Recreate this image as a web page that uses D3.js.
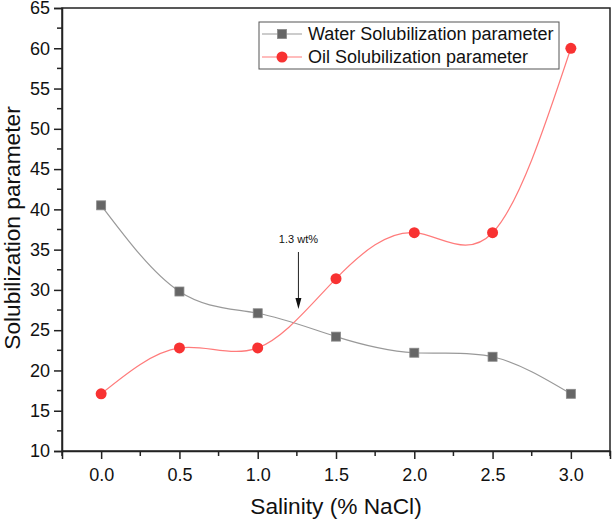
<!DOCTYPE html>
<html><head><meta charset="utf-8">
<script src="https://cdn.jsdelivr.net/npm/d3@7"></script>
<style>body{margin:0;background:#fff}svg{display:block;font-family:Arial,"Liberation Sans",sans-serif}</style>
</head><body><svg id="c" width="612" height="521"></svg>
<script>
const salinity = [0.0, 0.5, 1.0, 1.5, 2.0, 2.5, 3.0];
const waterSol = [40.5, 29.8, 27.1, 24.2, 22.2, 21.7, 17.1];
const oilSol = [17.1, 22.8, 22.8, 31.4, 37.1, 37.1, 60.0];
const xTicks = [0.0, 0.5, 1.0, 1.5, 2.0, 2.5, 3.0];
const yTicks = [10, 15, 20, 25, 30, 35, 40, 45, 50, 55, 60, 65];
const seriesNames = ["Water Solubilization parameter", "Oil Solubilization parameter"];

const FONT = "Arial,'Liberation Sans',sans-serif";
const svg = d3.select("#c");
const L = 62, R = 610, T = 8, B = 451;
const x = d3.scaleLinear().domain([-0.25, 3.25]).range([L, R]);
const y = d3.scaleLinear().domain([10, 65]).range([B, T]);

// frame
svg.append("rect").attr("x", L).attr("y", T).attr("width", R - L).attr("height", B - T)
  .attr("fill", "none").attr("stroke", "#222").attr("stroke-width", 1.5);

// x axis
const xAxis = d3.axisBottom(x).tickValues(xTicks).tickFormat(d3.format(".1f")).tickSize(8).tickPadding(9);
const gx = svg.append("g").attr("transform", `translate(0,${B})`).call(xAxis);
gx.select(".domain").attr("stroke", "#222").attr("stroke-width", 1.5);
gx.selectAll(".tick line").attr("stroke", "#222").attr("stroke-width", 1.5);
gx.selectAll(".tick text").attr("font-size", 18).attr("fill", "#111").attr("font-family", FONT);
const xMinor = d3.range(-0.25, 3.26, 0.5);
svg.append("g").selectAll("line").data(xMinor).join("line")
  .attr("x1", d => x(d)).attr("x2", d => x(d)).attr("y1", B).attr("y2", B + 5)
  .attr("stroke", "#222").attr("stroke-width", 1.5);

// y axis
const yAxis = d3.axisLeft(y).tickValues(yTicks).tickSize(8).tickPadding(4);
const gy = svg.append("g").attr("transform", `translate(${L},0)`).call(yAxis);
gy.select(".domain").attr("stroke", "#222").attr("stroke-width", 1.5);
gy.selectAll(".tick line").attr("stroke", "#222").attr("stroke-width", 1.5);
gy.selectAll(".tick text").attr("font-size", 18).attr("fill", "#111").attr("font-family", FONT);
const yMinor = d3.range(12.5, 65, 5);
svg.append("g").selectAll("line").data(yMinor).join("line")
  .attr("x1", L).attr("x2", L - 5).attr("y1", d => y(d)).attr("y2", d => y(d))
  .attr("stroke", "#222").attr("stroke-width", 1.5);

// titles
svg.append("text").attr("x", (L + R) / 2).attr("y", 514).attr("text-anchor", "middle")
  .attr("font-size", 22.7).attr("fill", "#111").text("Salinity (% NaCl)");
svg.append("text").attr("transform", `translate(20,${228}) rotate(-90)`).attr("text-anchor", "middle")
  .attr("font-size", 22.7).attr("fill", "#111").text("Solubilization parameter");

// lines
const line = d3.line().curve(d3.curveNatural).x(d => x(d[0])).y(d => y(d[1]));
const wData = salinity.map((s, i) => [s, waterSol[i]]);
const oData = salinity.map((s, i) => [s, oilSol[i]]);
svg.append("path").attr("d", line(wData)).attr("fill", "none").attr("stroke", "#999").attr("stroke-width", 1.2);
svg.append("path").attr("d", line(oData)).attr("fill", "none").attr("stroke", "#ff7b7b").attr("stroke-width", 1.2);

// markers
svg.append("g").selectAll("rect").data(wData).join("rect")
  .attr("x", d => x(d[0]) - 4.5).attr("y", d => y(d[1]) - 4.5).attr("width", 9).attr("height", 9)
  .attr("fill", "#666").attr("stroke", "#888").attr("stroke-width", 0.8);
svg.append("g").selectAll("circle").data(oData).join("circle")
  .attr("cx", d => x(d[0])).attr("cy", d => y(d[1])).attr("r", 5.5)
  .attr("fill", "#f83232");

// annotation
const ax = x(1.26);
svg.append("text").attr("x", ax).attr("y", 243).attr("text-anchor", "middle").attr("font-size", 11).attr("fill", "#111").text("1.3 wt%");
svg.append("line").attr("x1", ax).attr("x2", ax).attr("y1", 252).attr("y2", 300).attr("stroke", "#222").attr("stroke-width", 1);
svg.append("path").attr("d", `M${ax - 3},${298} L${ax + 3},${298} L${ax},${309} Z`).attr("fill", "#111");

// legend
const lg = svg.append("g");
lg.append("rect").attr("x", 259).attr("y", 22).attr("width", 300).attr("height", 47)
  .attr("fill", "#fff").attr("stroke", "#555").attr("stroke-width", 1);
[0, 1].forEach(i => {
  const ly = 34 + i * 23;
  lg.append("line").attr("x1", 262).attr("x2", 302).attr("y1", ly).attr("y2", ly)
    .attr("stroke", i === 0 ? "#999" : "#ff7b7b").attr("stroke-width", 1.2);
  if (i === 0) lg.append("rect").attr("x", 277.5).attr("y", ly - 4.5).attr("width", 9).attr("height", 9).attr("fill", "#666").attr("stroke", "#888").attr("stroke-width", 0.8);
  else lg.append("circle").attr("cx", 282).attr("cy", ly).attr("r", 5.5).attr("fill", "#f83232");
  lg.append("text").attr("x", 308).attr("y", ly + 6).attr("font-size", 18).attr("fill", "#111").text(seriesNames[i]);
});
</script></body></html>
